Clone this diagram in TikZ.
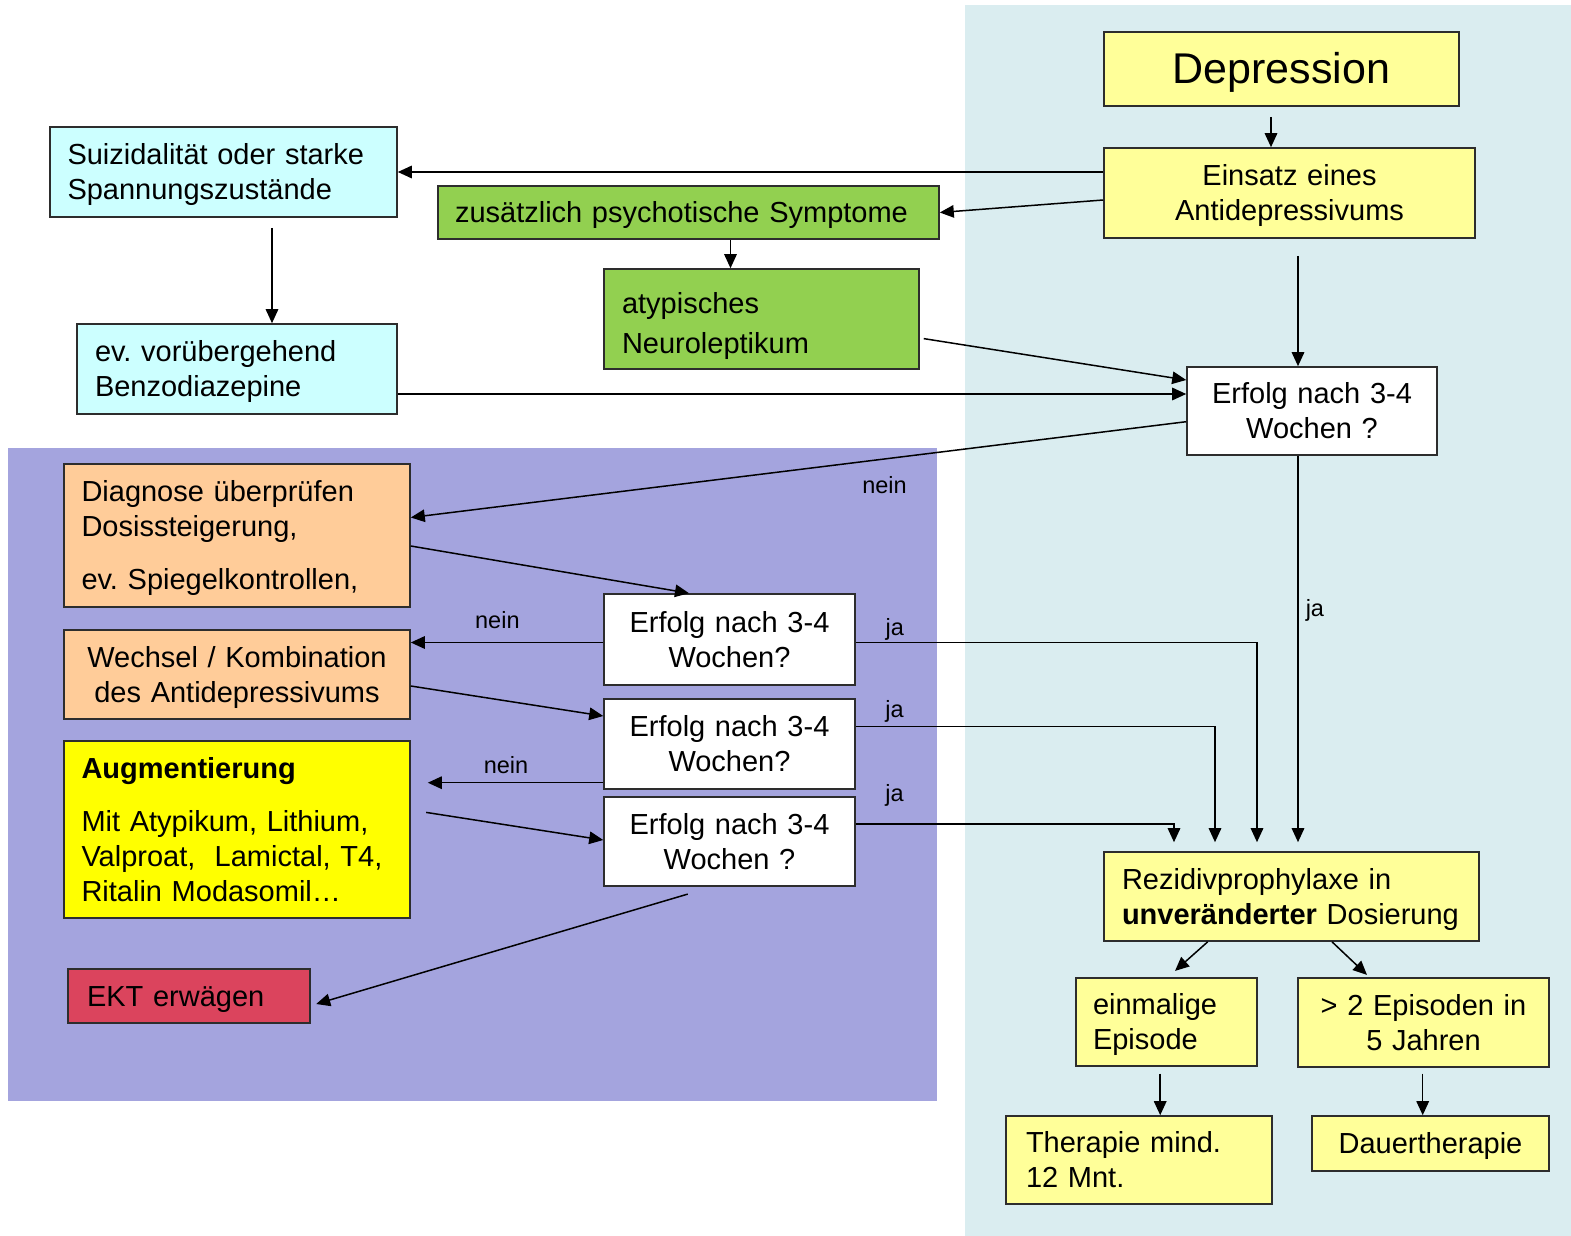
\documentclass[tikz,border=0pt]{standalone}
\usepackage{fontspec}
\setmainfont{Liberation Sans}
\usetikzlibrary{
    arrows.meta,
    calc
  }
\definecolor{boxline}{RGB}{45,45,45}
\definecolor{panelblue}{RGB}{218,237,240}
\definecolor{panelviolet}{RGB}{164,164,222}
\definecolor{palecyan}{RGB}{204,255,255}
\definecolor{paleyellow}{RGB}{255,255,153}
\definecolor{leafgreen}{RGB}{146,208,80}
\definecolor{apricot}{RGB}{255,204,153}
\definecolor{augmyellow}{RGB}{255,255,0}
\definecolor{ektred}{RGB}{219,68,93}
\newcommand{\boxfont}{\fontsize{29}{35}\selectfont\frenchspacing}
\newcommand{\answerfont}{\fontsize{23.5}{28}\selectfont}
\newcommand{\linestrut}{\rule[-0.212em]{0pt}{1.117em}}
\tikzset{
  box/.style={draw=boxline, line width=1.6pt, inner sep=0pt, align=center, font=\boxfont,
    execute at begin node=\linestrut, execute at end node=\linestrut},
  centerbox/.style={box, align=center, inner xsep=10pt},
  leftbox/.style={box, align=left, inner xsep=18pt},
  flow/.style={draw, line width=1.5pt, -{Triangle[length=14pt,width=12.5pt]}},
  answer/.style={font=\answerfont, inner sep=0pt, anchor=base}
}

\begin{document}
\begin{tikzpicture}[x=1pt, y=-1pt]

\useasboundingbox (0,0) rectangle (1571,1236);
\path[fill=panelblue] (965,5) rectangle (1571,1236);
\path[fill=panelviolet] (8,448) rectangle (937,1101);

\path
  (1281.5,69) node[centerbox, fill=paleyellow, text width=335pt, minimum height=74pt, font=\fontsize{43}{50}\selectfont] (depression) {Depression}
  (1289.5,193) node[centerbox, fill=paleyellow, text width=351pt, minimum height=90pt] (einsatz) {Einsatz eines\\Antidepressivums}
  (223.5,172) node[leftbox, fill=palecyan, inner xsep=17.5pt, text width=312pt, minimum height=90pt] (suizid) {Suizidalität oder starke\\Spannungszustände}
  (688.5,212.5) node[leftbox, fill=leafgreen, inner xsep=17pt, text width=467pt, minimum height=53pt] (psychose) {zusätzlich psychotische Symptome}
  (761.5,319) node[leftbox, fill=leafgreen, text width=279pt, minimum height=100pt, execute at begin node={\rule{0pt}{35pt}}] (neuroleptikum) {atypisches\\[5pt]Neuroleptikum}
  (237,369) node[leftbox, fill=palecyan, text width=284pt, minimum height=90pt] (benzo) {ev. vorübergehend\\Benzodiazepine}
  (1312,411) node[centerbox, fill=white, text width=230pt, minimum height=88pt] (erfolg_start) {Erfolg nach 3-4\\Wochen ?}
;

\path
  (237,535.5) node[leftbox, fill=apricot, inner xsep=17.5pt, text width=311pt, minimum height=143pt] (diagnose) {Diagnose überprüfen\\Dosissteigerung,\\[18pt]ev. Spiegelkontrollen,}
  (237,674.5) node[centerbox, fill=apricot, text width=326pt, minimum height=89pt] (wechsel) {Wechsel / Kombination\\des Antidepressivums}
  (237,829.5) node[leftbox, fill=augmyellow, inner xsep=17.5pt, text width=311pt, minimum height=177pt] (augmentierung) {\textbf{Augmentierung}\\[18pt]Mit Atypikum, Lithium,\\Valproat,\ \ Lamictal, T4,\\Ritalin Modasomil…}
  (189,996) node[leftbox, fill=ektred, inner xsep=19pt, text width=204pt, minimum height=54pt] (ekt) {EKT erwägen}
  (729.5,639.5) node[centerbox, fill=white, text width=231pt, minimum height=91pt] (erfolg_a) {Erfolg nach 3-4\\Wochen?}
  (729.5,744) node[centerbox, fill=white, text width=231pt, minimum height=90pt] (erfolg_b) {Erfolg nach 3-4\\Wochen?}
  (729.5,841.5) node[centerbox, fill=white, text width=231pt, minimum height=89pt] (erfolg_c) {Erfolg nach 3-4\\Wochen ?}
;

\path
  (1291.5,896.5) node[leftbox, fill=paleyellow, text width=339pt, minimum height=89pt] (rezidiv) {Rezidivprophylaxe in\\\textbf{unveränderter} Dosierung}
  (1166.5,1022) node[leftbox, fill=paleyellow, inner xsep=17pt, text width=147pt, minimum height=88pt] (einmalig) {einmalige\\Episode}
  (1423.5,1022.5) node[centerbox, fill=paleyellow, text width=231pt, minimum height=89pt] (mehrfach) {> 2 Episoden in\\5 Jahren}
  (1139,1160) node[leftbox, fill=paleyellow, inner xsep=20pt, text width=226pt, minimum height=88pt] (therapie) {Therapie mind.\\12 Mnt.}
  (1430.5,1143.5) node[centerbox, fill=paleyellow, text width=217pt, minimum height=55pt] (dauer) {Dauertherapie}
;

\path[flow, shorten <=10pt] ([xshift=-10.5pt]depression.south) -- ([xshift=-10.5pt]depression.south |- einsatz.north);
\path[flow] (suizid.east -| einsatz.west) -- (suizid.east);
\path[flow] ([yshift=-7pt]einsatz.west) -- (psychose.east);
\path[flow, shorten <=10pt] ([xshift=48.5pt]suizid.south) -- ([xshift=48.5pt]suizid.south |- benzo.north);
\path[flow] ([xshift=42pt]psychose.south) -- ([xshift=42pt]psychose.south |- neuroleptikum.north);
\path[flow, shorten <=4pt] ([yshift=-19pt]neuroleptikum.east) -- ([yshift=31pt]erfolg_start.west);
\path[flow] ([yshift=-25pt]benzo.east) -- ([yshift=-25pt]benzo.east -| erfolg_start.west);
\path[flow, shorten <=17pt] ([xshift=8.5pt]einsatz.south) -- ([xshift=8.5pt]einsatz.south |- erfolg_start.north);

\path[flow] ([yshift=-10.7pt]erfolg_start.west) -- node[answer, pos=0.389, yshift=-34.5pt] (nein_start) {nein} ([yshift=18pt]diagnose.east);
\path[flow, shorten >=9pt] ([xshift=-14pt]erfolg_start.south) -- node[answer, pos=0.385, anchor=base west, xshift=7pt, yshift=-8.5pt] (ja_start) {ja} ([xshift=-14pt]erfolg_start.south |- rezidiv.north);

\path[flow] ([yshift=-10.5pt]diagnose.east) -- ([xshift=-40.5pt]erfolg_a.north);
\path[flow] ([yshift=-3pt]erfolg_a.west) -- node[answer, pos=0.55, yshift=14.2pt] (nein_a) {nein} ([yshift=-3pt]erfolg_a.west -| wechsel.east);
\path[flow, shorten >=9pt] ([yshift=-3pt]erfolg_a.east) -| node[answer, pos=0.0485, yshift=7.5pt] (ja_a) {ja} ([xshift=-34.5pt]rezidiv.north);

\path[flow] ([yshift=-11.5pt]wechsel.east) -- ([yshift=28pt]erfolg_b.west);
\path[flow, shorten >=17pt] ([yshift=-38.7pt]erfolg_b.west) -- node[answer, pos=0.505, yshift=9.2pt] (nein_b) {nein} ([yshift=-38.7pt]erfolg_b.west -| augmentierung.east);
\path[flow, shorten >=9pt] ([yshift=17.3pt]erfolg_b.east) -| node[answer, pos=0.054, yshift=9.2pt] (ja_b) {ja} ([xshift=-76.5pt]rezidiv.north);

\path[flow, shorten <=15.6pt] ([yshift=19.5pt]augmentierung.east) -- ([yshift=1.5pt]erfolg_c.west);
\path[flow, shorten >=9pt] ([yshift=17.5pt]erfolg_c.east) -| node[answer, pos=0.061, yshift=22.5pt] (ja_c) {ja} ([xshift=-117.5pt]rezidiv.north);
\path[flow] ([xshift=-41.8pt, yshift=-7.3pt]erfolg_c.south) -- ([xshift=5.4pt, yshift=-8pt]ekt.east);

\path[flow] ([xshift=-83.8pt]rezidiv.south) -- ([xshift=8.5pt, yshift=6.3pt]einmalig.north);
\path[flow] ([xshift=40.5pt]rezidiv.south) -- ([xshift=-56.5pt, yshift=2.3pt]mehrfach.north);
\path[flow, shorten <=6.7pt] ([xshift=-6.3pt]einmalig.south) -- ([xshift=-6.3pt]einmalig.south |- therapie.north);
\path[flow, shorten <=5.7pt] ([xshift=-0.8pt]mehrfach.south) -- ([xshift=-0.8pt]mehrfach.south |- dauer.north);

\end{tikzpicture}
\end{document}
